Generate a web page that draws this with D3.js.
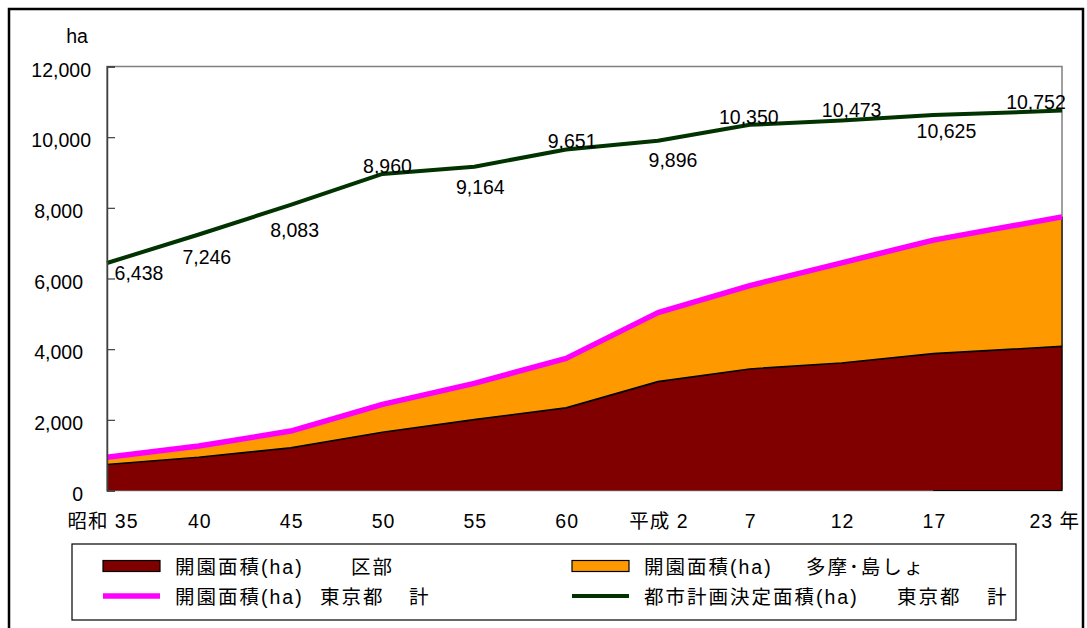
<!DOCTYPE html>
<html>
<head>
<meta charset="utf-8">
<script src="https://cdn.jsdelivr.net/npm/d3@7"></script>
<style>
  html, body { margin: 0; padding: 0; background: #fff; }
  svg { display: block; }
  text { font-family: "Liberation Sans", Arial, "Noto Sans CJK JP", sans-serif; fill: #000; }
</style>
</head>
<body>
<svg id="chart" width="1087" height="628"></svg>
<script>
// Era labels for each record, and the calendar year each record is placed at
const eraLabels   = ["昭和 35", "40", "45", "50", "55", "60", "平成 2", "7", "12", "17", "23 年"];
const recordYears = [1960, 1965, 1970, 1975, 1980, 1985, 1990, 1995, 2000, 2005, 2012];

// Opened park area (ha): 23 wards, Tama & islands, Tokyo total
const wardArea  = [735, 941, 1207, 1648, 2007, 2338, 3081, 3440, 3610, 3873, 4079];
const tamaArea  = [204, 318, 476, 790, 1025, 1402, 1954, 2360, 2834, 3213, 3666];
const totalArea = [939, 1259, 1683, 2438, 3032, 3740, 5035, 5800, 6444, 7086, 7745];

// Area decided by city planning (ha), Tokyo total
const plannedArea = [6438, 7246, 8083, 8960, 9164, 9651, 9896, 10350, 10473, 10625, 10752];

const yTicks = [0, 2000, 4000, 6000, 8000, 10000, 12000];

// Legend wording, split into the separately spaced words
const legendWard    = ["開園面積(ha)", "区部"];
const legendTama    = ["開園面積(ha)", "多摩･島しょ"];
const legendTotal   = ["開園面積(ha)", "東京都", "計"];
const legendPlanned = ["都市計画決定面積(ha)", "東京都", "計"];

const COLORS = { ward: "#800000", tama: "#FF9900", total: "#FF00FF", planned: "#003300" };

const svg = d3.select("#chart");
const plot = { left: 107, right: 1062, top: 66.5, bottom: 490.5 };

const x = d3.scaleLinear()
  .domain([recordYears[0], recordYears[recordYears.length - 1]])
  .range([plot.left, plot.right]);
const y = d3.scaleLinear().domain([0, 12000]).range([plot.bottom, plot.top]);

// Outer frame
svg.append("rect")
  .attr("x", 9).attr("y", 9).attr("width", 1074).attr("height", 640)
  .attr("fill", "none").attr("stroke", "#000").attr("stroke-width", 2.5);

// Plot frame
svg.append("rect")
  .attr("x", plot.left).attr("y", plot.top)
  .attr("width", plot.right - plot.left).attr("height", plot.bottom - plot.top)
  .attr("fill", "none").attr("stroke", "#808080").attr("stroke-width", 1.5);

// Stacked areas
const rows = recordYears.map((yr, i) => ({ year: yr, ward: wardArea[i], tama: tamaArea[i] }));
const stacked = d3.stack().keys(["ward", "tama"])(rows);

const area = d3.area()
  .x(d => x(d.data.year))
  .y0(d => y(d[0]))
  .y1(d => y(d[1]));

svg.append("path")
  .datum(stacked[1])
  .attr("d", area)
  .attr("fill", COLORS.tama);

svg.append("path")
  .datum(stacked[0])
  .attr("d", area)
  .attr("fill", COLORS.ward);

// Outline of the ward area
svg.append("path")
  .datum(recordYears.map((yr, i) => [x(yr), y(wardArea[i])]))
  .attr("d", d3.line())
  .attr("fill", "none").attr("stroke", "#000").attr("stroke-width", 1.6);

const lastX = x(recordYears[recordYears.length - 1]);
svg.append("line")
  .attr("x1", lastX).attr("x2", lastX)
  .attr("y1", y(totalArea[totalArea.length - 1])).attr("y2", y(0))
  .attr("stroke", "#000").attr("stroke-width", 1.2);
svg.append("line")
  .attr("x1", x(recordYears[recordYears.length - 2])).attr("x2", lastX)
  .attr("y1", y(0)).attr("y2", y(0))
  .attr("stroke", "#000").attr("stroke-width", 1.2);

// Total opened area line
svg.append("path")
  .datum(recordYears.map((yr, i) => [x(yr), y(totalArea[i])]))
  .attr("d", d3.line())
  .attr("fill", "none").attr("stroke", COLORS.total).attr("stroke-width", 5.5)
  .attr("stroke-linejoin", "round");

// City-planning decided area line
svg.append("path")
  .datum(recordYears.map((yr, i) => [x(yr), y(plannedArea[i])]))
  .attr("d", d3.line())
  .attr("fill", "none").attr("stroke", COLORS.planned).attr("stroke-width", 4)
  .attr("stroke-linejoin", "round");

// Y axis
const yAxis = d3.axisRight(y).tickValues(yTicks).tickSize(8).tickFormat("");
const gy = svg.append("g").attr("transform", `translate(${plot.left},0)`).call(yAxis);
gy.select(".domain").attr("stroke", "#404040").attr("stroke-width", 1.5);
gy.selectAll(".tick line").attr("stroke", "#404040").attr("stroke-width", 1.2);

const fmt = d3.format(",");
svg.append("g").selectAll("text")
  .data(yTicks)
  .join("text")
  .attr("x", d => d >= 10000 ? 91 : 83)
  .attr("y", d => y(d) + 3)
  .attr("text-anchor", "end")
  .attr("dominant-baseline", "central")
  .attr("font-size", 19.5)
  .text(fmt);

svg.append("text")
  .attr("x", 77).attr("y", 36)
  .attr("text-anchor", "middle").attr("dominant-baseline", "central")
  .attr("font-size", 19.5)
  .text("ha");

// X axis labels
svg.append("g").selectAll("text")
  .data(eraLabels)
  .join("text")
  .attr("x", (d, i) => {
    const px = x(recordYears[i]);
    if (i === 0) return px - 4;
    if (i === eraLabels.length - 1) return px + 18;
    return px + 1;
  })
  .attr("y", 521)
  .attr("text-anchor", (d, i) => i === eraLabels.length - 1 ? "end" : "middle")
  .attr("dominant-baseline", "central")
  .attr("font-size", 19.5)
  .attr("letter-spacing", 1)
  .text(d => d);

// Value labels on the planned-area line (dx, dy from each point)
const labelNudge = [[32, 10], [8, 23], [4, 25], [5, -8], [6, 20], [6, -8],
                    [15, 19], [-1, -8], [10, -10], [13, 16], [-26, -9]];
svg.append("g").selectAll("text")
  .data(plannedArea)
  .join("text")
  .attr("x", (d, i) => x(recordYears[i]) + labelNudge[i][0])
  .attr("y", (d, i) => y(d) + labelNudge[i][1])
  .attr("text-anchor", "middle")
  .attr("dominant-baseline", "central")
  .attr("font-size", 19.5)
  .text(fmt);

// Legend
const lg = svg.append("g");
lg.append("rect")
  .attr("x", 72).attr("y", 544).attr("width", 944).attr("height", 76)
  .attr("fill", "#fff").attr("stroke", "#000").attr("stroke-width", 1.2);

const legendItems = [
  { kind: "box",  color: COLORS.ward,    col: 0, row: 0, words: legendWard,    wx: [0, 176] },
  { kind: "box",  color: COLORS.tama,    col: 1, row: 0, words: legendTama,    wx: [0, 162] },
  { kind: "line", color: COLORS.total,   col: 0, row: 1, words: legendTotal,   wx: [0, 145, 234], w: 5.5 },
  { kind: "line", color: COLORS.planned, col: 1, row: 1, words: legendPlanned, wx: [0, 253, 343], w: 4 }
];
const colX = [103, 572];
const rowY = [566, 596];
legendItems.forEach(it => {
  const x0 = colX[it.col], cy = rowY[it.row];
  if (it.kind === "box") {
    lg.append("rect")
      .attr("x", x0).attr("y", cy - 5.5).attr("width", 57).attr("height", 11)
      .attr("fill", it.color).attr("stroke", "#000").attr("stroke-width", 1.2);
  } else {
    lg.append("line")
      .attr("x1", x0).attr("x2", x0 + 57).attr("y1", cy).attr("y2", cy)
      .attr("stroke", it.color).attr("stroke-width", it.w);
  }
  it.words.forEach((w, k) => {
    lg.append("text")
      .attr("x", x0 + 72 + it.wx[k]).attr("y", cy + 1)
      .attr("dominant-baseline", "central")
      .attr("font-size", 19.5)
      .attr("letter-spacing", 2)
      .text(w);
  });
});
</script>
</body>
</html>
